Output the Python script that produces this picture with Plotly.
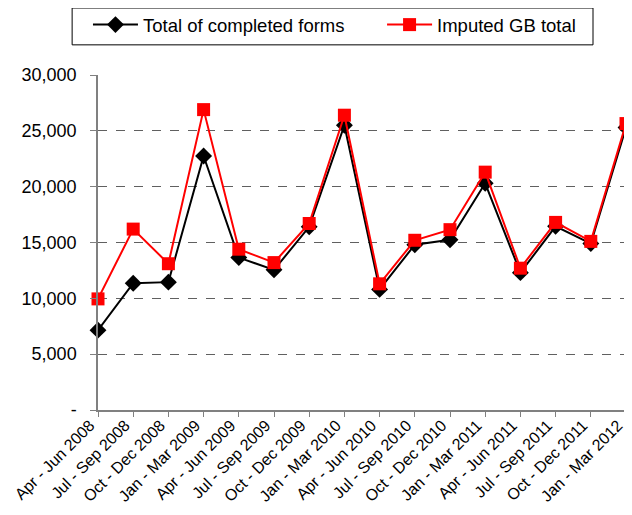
import plotly.graph_objects as go

quarters = [
    "Apr - Jun 2008", "Jul - Sep 2008", "Oct - Dec 2008", "Jan - Mar 2009",
    "Apr - Jun 2009", "Jul - Sep 2009", "Oct - Dec 2009", "Jan - Mar 2010",
    "Apr - Jun 2010", "Jul - Sep 2010", "Oct - Dec 2010", "Jan - Mar 2011",
    "Apr - Jun 2011", "Jul - Sep 2011", "Oct - Dec 2011", "Jan - Mar 2012",
]
completed_forms = [
    7150, 11350, 11450, 22750, 13650, 12550, 16400, 25500,
    10800, 14800, 15250, 20300, 12300, 16450, 14900, 25300,
]
imputed_gb = [
    9950, 16200, 13100, 26900, 14400, 13200, 16700, 26400,
    11300, 15200, 16150, 21300, 12700, 16800, 15100, 25650,
]

y_ticks = [0, 5000, 10000, 15000, 20000, 25000, 30000]
y_tick_text = ["-", "5,000", "10,000", "15,000", "20,000", "25,000", "30,000"]

FONT = "Liberation Sans, Arial, sans-serif"
AXIS_GREY = "#808080"

fig = go.Figure()
fig.add_trace(go.Scatter(
    x=quarters, y=completed_forms, mode="lines+markers",
    name="Total of completed forms", legend="legend",
    line=dict(color="black", width=2),
    marker=dict(symbol="diamond", size=13, color="black"),
    cliponaxis=False,
))
fig.add_trace(go.Scatter(
    x=quarters, y=imputed_gb, mode="lines+markers",
    name="Imputed GB total", legend="legend2",
    line=dict(color="#ff0000", width=2),
    marker=dict(symbol="square", size=13, color="#ff0000"),
    cliponaxis=False,
))

# one frame around both legend entries
fig.add_shape(
    type="rect", xref="paper", yref="paper",
    x0=-0.049, x1=0.9375, y0=1.09, y1=1.2,
    line=dict(color="black", width=1), fillcolor="white", layer="below",
)

_LEGEND = dict(
    orientation="h", xanchor="left", y=1.149, yanchor="middle",
    bgcolor="rgba(0,0,0,0)", borderwidth=0, font=dict(size=18.5),
    itemwidth=45,
)

# page body adds an 8px offset, so the figure is drawn 8px smaller
fig.update_layout(
    width=624, height=507,
    margin=dict(l=90, r=6, t=67, b=105, autoexpand=False),
    paper_bgcolor="white", plot_bgcolor="white",
    font=dict(family=FONT, size=17, color="black"),
    showlegend=True,
    legend=dict(x=-0.019, **_LEGEND),
    legend2=dict(x=0.538, **_LEGEND),
)
fig.update_xaxes(
    type="category", range=[0, 15], tickangle=-45, automargin=False,
    showline=True, linecolor=AXIS_GREY, linewidth=1.5,
    ticks="outside", ticklen=5, tickcolor=AXIS_GREY,
    ticklabelshift=-8, ticklabelstandoff=-7,
    showgrid=False, tickfont=dict(size=16),
)
fig.update_yaxes(
    range=[0, 30000], tickvals=y_ticks, ticktext=y_tick_text, automargin=False,
    showline=True, linecolor=AXIS_GREY, linewidth=1.5,
    ticks="outside", ticklen=6, tickcolor=AXIS_GREY, ticklabelstandoff=10,
    showgrid=True, gridcolor="#606060", griddash="dash", gridwidth=1,
    zeroline=False, tickfont=dict(size=18),
)

fig.write_html("out.html")
